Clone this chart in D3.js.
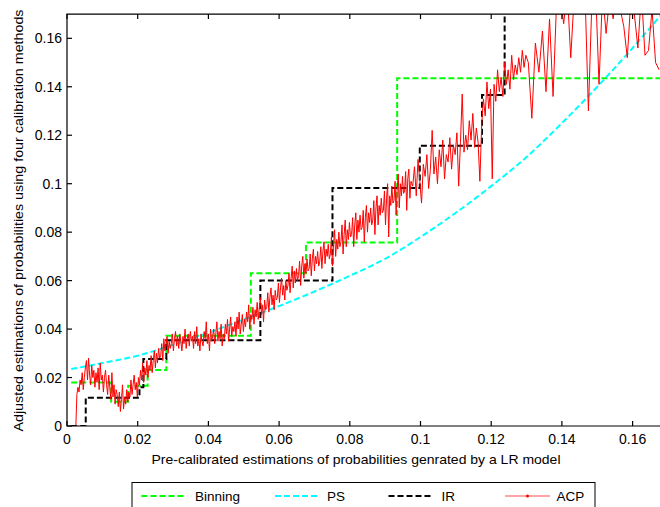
<!DOCTYPE html>
<html><head><meta charset="utf-8">
<script src="https://cdn.jsdelivr.net/npm/d3@7"></script>
<style>html,body{margin:0;padding:0;background:#fff;overflow:hidden}text{font-family:"Liberation Sans",Arial,sans-serif;fill:#000}</style>
</head><body>
<svg id="c" width="660" height="507"></svg>
<script>
// ---- data ----
const xTicks = [0, 0.02, 0.04, 0.06, 0.08, 0.1, 0.12, 0.14, 0.16];
const yTicks = [0, 0.02, 0.04, 0.06, 0.08, 0.1, 0.12, 0.14, 0.16];
const xTickLabels = ["0", "0.02", "0.04", "0.06", "0.08", "0.1", "0.12", "0.14", "0.16"];
const yTickLabels = ["0", "0.02", "0.04", "0.06", "0.08", "0.1", "0.12", "0.14", "0.16"];
const seriesNames = ["Binning", "PS", "IR", "ACP"];

// Binning: step edges and bin values
const binEdges = [0.0012, 0.0125, 0.0173, 0.0228, 0.0281, 0.0520, 0.0676, 0.0934, 0.17];
const binY = [0.018, 0.010, 0.0166, 0.0231, 0.0372, 0.063, 0.0757, 0.1435];

// IR: step edges and values
const irEdges = [0.0012, 0.0053, 0.0205, 0.0216, 0.0281, 0.0547, 0.0751, 0.0998, 0.1174, 0.1238, 0.17];
const irY = [0, 0.0117, 0.016, 0.0277, 0.0354, 0.0600, 0.0982, 0.1157, 0.1366, 0.20];

// PS (Platt scaling) curve
const psX = [0.0012, 0.01, 0.02, 0.03, 0.04, 0.05, 0.06, 0.07, 0.08, 0.09, 0.10, 0.11, 0.12, 0.13, 0.14, 0.15, 0.16, 0.17];
const psY = [0.0235, 0.026, 0.029, 0.0335, 0.0385, 0.044, 0.0495, 0.0555, 0.062, 0.069, 0.078, 0.088, 0.099, 0.111, 0.125, 0.140, 0.156, 0.173];

// ACP: dense part, read every 0.0003 from x = 0.0025
const acpDenseStart = 0.0025, acpDenseStep = 0.0003;
const acpDense = [
 0.000,0.013,0.016,0.014,0.019,0.017,0.022,0.015,0.020,0.024,
 0.027,0.019,0.028,0.021,0.017,0.025,0.020,0.023,0.016,0.022,
 0.018,0.024,0.015,0.026,0.019,0.021,0.014,0.020,0.023,0.017,
 0.013,0.021,0.016,0.011,0.022,0.012,0.017,0.009,0.015,0.013,
 0.008,0.014,0.006,0.011,0.017,0.007,0.012,0.009,0.015,0.010,
 0.014,0.012,0.019,0.013,0.017,0.021,0.015,0.018,0.012,0.020,
 0.017,0.023,0.019,0.026,0.018,0.024,0.021,0.027,0.020,0.025,
 0.023,0.029,0.022,0.027,0.031,0.024,0.030,0.026,0.032,0.028,
 0.029,0.034,0.027,0.036,0.031,0.033,0.037,0.030,0.035,0.032,
 0.034,0.038,0.031,0.036,0.039,0.033,0.037,0.032,0.038,0.035,
 0.031,0.037,0.034,0.040,0.032,0.036,0.038,0.033,0.039,0.035,
 0.037,0.032,0.039,0.034,0.041,0.033,0.036,0.031,0.038,0.035,
 0.033,0.039,0.036,0.043,0.034,0.038,0.031,0.040,0.035,0.037,
 0.040,0.034,0.038,0.043,0.035,0.039,0.036,0.042,0.033,0.038,
 0.036,0.042,0.038,0.044,0.035,0.040,0.045,0.037,0.041,0.039,
 0.043,0.037,0.045,0.040,0.047,0.038,0.042,0.046,0.039,0.044,
 0.041,0.047,0.043,0.050,0.040,0.046,0.044,0.049,0.042,0.048,
 0.045,0.051,0.044,0.049,0.053,0.046,0.050,0.043,0.052,0.048,
 0.049,0.055,0.047,0.053,0.057,0.050,0.054,0.048,0.056,0.052,
 0.053,0.059,0.051,0.057,0.061,0.054,0.058,0.052,0.060,0.056,
 0.058,0.063,0.055,0.061,0.066,0.057,0.064,0.059,0.065,0.060,
 0.062,0.068,0.058,0.066,0.070,0.061,0.067,0.063,0.069,0.064,
 0.065,0.071,0.062,0.069,0.073,0.064,0.070,0.067,0.072,0.066,
 0.068,0.074,0.065,0.072,0.076,0.067,0.073,0.070,0.075,0.069,
 0.071,0.078,0.066,0.075,0.081,0.070,0.077,0.073,0.080,0.074,
 0.076,0.083,0.071,0.079,0.085,0.074,0.081,0.077,0.084,0.078,
 0.079,0.086,0.074,0.083,0.088,0.077,0.085,0.080,0.087,0.081,
 0.082,0.089,0.076,0.086,0.091,0.080,0.088,0.084,0.090,0.083,
 0.085,0.093,0.079,0.090,0.095,0.083,0.091,0.087,0.094,0.088,
 0.089,0.097,0.083,0.094,0.100,0.078,0.095,0.091,0.099,0.092,
 0.093,0.101,0.087,0.098,0.104,0.090,0.100,0.095,0.103,0.096,
 0.097,0.105,0.089,0.102,0.106,0.094,0.101
];
// ACP: middle part, read every 0.0005 from x = 0.0978
const acpMidStart = 0.0978, acpMidStep = 0.0005;
const acpMid = [
 0.099,0.107,0.095,0.110,0.101,0.092,0.108,0.103,0.112,0.098,
 0.106,0.122,0.104,0.111,0.100,0.114,0.107,0.118,0.102,0.112,
 0.109,0.119,0.106,0.116,0.112,0.121,0.099,0.117,0.137,0.113,
 0.120,0.114,0.126,0.118,0.129,0.115,0.123,0.117,0.101,0.124,
 0.135,0.128,0.142,0.131,0.139,0.102,0.141,0.134,0.147,0.138,
 0.144,0.136,0.150,0.141,0.147,0.139,0.153,0.143,0.149,0.145,
 0.152,0.146,0.155,0.148,0.153
];
// ACP: tail part, read every 0.001 from x = 0.1305
const acpTailStart = 0.1305, acpTailStep = 0.001;
const acpTail = [
 0.150,0.127,0.158,0.146,0.163,0.138,0.168,0.136,0.175,0.178,
 0.166,0.180,0.152,0.178,0.185,0.175,0.181,0.130,0.176,0.182,
 0.141,0.179,0.162,0.177,0.168,0.180,0.172,0.165,0.152,0.176,
 0.170,0.156,0.179,0.153,0.155,0.172,0.150,0.147
];

// ---- chart ----
const svg = d3.select("#c");
const L = 67, B = 426;
const x = d3.scaleLinear().domain([0, 0.17]).range([L, L + 0.17 * 3535]);
const y = d3.scaleLinear().domain([0, 0.17]).range([B, B - 0.17 * 2423]);
const R = x(0.17), T = y(0.17);

svg.append("defs").append("clipPath").attr("id", "clip")
  .append("rect").attr("x", L).attr("y", T).attr("width", R - L).attr("height", B - T);

const plot = svg.append("g").attr("clip-path", "url(#clip)");

function stepPts(edges, vals) {
  const p = vals.map((v, i) => [edges[i], v]);
  p.push([edges[edges.length - 1], vals[vals.length - 1]]);
  return p;
}
const stepLine = d3.line().x(d => x(d[0])).y(d => y(d[1])).curve(d3.curveStepAfter);
const smooth = d3.line().x(d => x(d[0])).y(d => y(d[1])).curve(d3.curveMonotoneX);
const straight = d3.line().x(d => x(d[0])).y(d => y(d[1]));

const seg = (vals, s, st) => vals.map((v, i) => [s + i * st, v]);
const acpPts = seg(acpDense, acpDenseStart, acpDenseStep)
  .concat(seg(acpMid, acpMidStart, acpMidStep))
  .concat(seg(acpTail, acpTailStart, acpTailStep));

const colors = { Binning: "#00ff00", PS: "#00ffff", IR: "#000000", ACP: "#ff0000" };

plot.append("path").attr("d", stepLine(stepPts(binEdges, binY)))
  .attr("fill", "none").attr("stroke", colors.Binning).attr("stroke-width", 2).attr("stroke-dasharray", "6,3");
plot.append("path").attr("d", smooth(psX.map((v, i) => [v, psY[i]])))
  .attr("fill", "none").attr("stroke", colors.PS).attr("stroke-width", 2).attr("stroke-dasharray", "6,3");
plot.append("path").attr("d", stepLine(stepPts(irEdges, irY)))
  .attr("fill", "none").attr("stroke", colors.IR).attr("stroke-width", 2).attr("stroke-dasharray", "6,3");
plot.append("path").attr("d", straight(acpPts))
  .attr("fill", "none").attr("stroke", colors.ACP).attr("stroke-width", 1).attr("stroke-linejoin", "round");

// axes (MATLAB box style, ticks inward)
const ax = svg.append("g").attr("stroke", "#000").attr("stroke-width", 1.2).attr("fill", "none");
ax.append("path").attr("d", `M${L},${T}V${B}H${R}V${T}Z`);
const tk = 5;
xTicks.forEach(t => {
  ax.append("line").attr("x1", x(t)).attr("x2", x(t)).attr("y1", B).attr("y2", B - tk);
  ax.append("line").attr("x1", x(t)).attr("x2", x(t)).attr("y1", T).attr("y2", T + tk);
});
yTicks.forEach(t => {
  ax.append("line").attr("x1", L).attr("x2", L + tk).attr("y1", y(t)).attr("y2", y(t));
  ax.append("line").attr("x1", R).attr("x2", R - tk).attr("y1", y(t)).attr("y2", y(t));
});

const tl = svg.append("g").attr("font-size", 14);
xTicks.forEach((t, i) => tl.append("text").attr("x", x(t)).attr("y", 443.5).attr("text-anchor", "middle").text(xTickLabels[i]));
yTicks.forEach((t, i) => tl.append("text").attr("x", 62).attr("y", y(t) + 5).attr("text-anchor", "end").text(yTickLabels[i]));

svg.append("text").attr("x", 151.5).attr("y", 463.5).attr("font-size", 13.5)
  .attr("textLength", 409).attr("lengthAdjust", "spacingAndGlyphs")
  .text("Pre-calibrated estimations of probabilities genrated by a LR model");
svg.append("text").attr("transform", "translate(22.5,431.5) rotate(-90)").attr("font-size", 13.5)
  .attr("textLength", 422).attr("lengthAdjust", "spacingAndGlyphs")
  .text("Adjusted estimations of probabilities using four calibration methods");

// legend
const lg = svg.append("g");
lg.append("rect").attr("x", 132).attr("y", 482.5).attr("width", 463).attr("height", 40)
  .attr("fill", "#fff").attr("stroke", "#000").attr("stroke-width", 1);
const legItems = [
  { name: seriesNames[0], x1: 141.5, x2: 186.5, tx: 195, dash: "6,3", w: 2 },
  { name: seriesNames[1], x1: 275, x2: 320, tx: 327, dash: "6,3", w: 2 },
  { name: seriesNames[2], x1: 388.5, x2: 433, tx: 441.5, dash: "6,3", w: 2 },
  { name: seriesNames[3], x1: 505, x2: 550, tx: 556.5, dash: null, w: 0.7 }
];
legItems.forEach(it => {
  const ln = lg.append("line").attr("x1", it.x1).attr("x2", it.x2).attr("y1", 496).attr("y2", 496)
    .attr("stroke", colors[it.name]).attr("stroke-width", it.w);
  if (it.dash) ln.attr("stroke-dasharray", it.dash);
  if (it.name === "ACP") lg.append("circle").attr("cx", (it.x1 + it.x2) / 2).attr("cy", 496).attr("r", 1.5).attr("fill", colors.ACP);
  lg.append("text").attr("x", it.tx).attr("y", 501).attr("font-size", 13.5).text(it.name);
});
</script>
</body></html>
